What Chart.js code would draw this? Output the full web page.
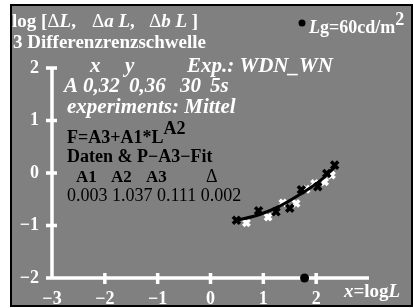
<!DOCTYPE html>
<html><head><meta charset="utf-8">
<script src="https://cdn.jsdelivr.net/npm/chart.js@4"></script>
<style>html,body{margin:0;padding:0;background:#fff}#wrap{width:414px;height:308px}</style>
</head><body><div id="wrap"><canvas id="c" width="414" height="308"></canvas></div>
<script>
const xTickValues = [-3, -2, -1, 0, 1, 2, 3];
const xTickLabels = ['−3', '−2', '−1', '0', '1', '2', ''];
const yTickValues = [-2, -1, 0, 1, 2];
const yTickLabels = ['−2', '−1', '0', '1', '2'];
const blackX = [0.49, 0.91, 1.24, 1.50, 1.72, 2.03, 2.20, 2.35];
const blackY = [-0.90, -0.72, -0.74, -0.67, -0.32, -0.26, -0.01, 0.15];
const whiteX = [0.68, 1.09, 1.37, 1.62, 1.81, 1.97, 2.16, 2.29];
const whiteY = [-0.95, -0.84, -0.57, -0.58, -0.31, -0.20, -0.17, -0.04];
const fitX = [0.47, 0.93, 1.31, 1.69, 2.06, 2.36];
const fitY = [-0.91, -0.79, -0.63, -0.41, -0.16, 0.12];
const lgX = [1.78];
const lgY = [-2];

const SERIF = "'Liberation Serif','Times New Roman',serif";
const pts = (xs, ys) => xs.map((v, i) => ({x: v, y: ys[i]}));

function rich(ctx, x, y, segs) {
  let cx = x;
  segs.forEach(s => {
    ctx.font = s.f;
    ctx.fillStyle = s.c || '#fff';
    ctx.fillText(s.t, cx, y + (s.dy || 0));
    cx += ctx.measureText(s.t).width;
  });
  return cx;
}

const framePlugin = {
  id: 'frame',
  beforeDraw(chart) {
    const ctx = chart.ctx;
    ctx.save();
    ctx.fillStyle = '#fff';
    ctx.fillRect(0, 0, 414, 308);
    ctx.fillStyle = '#808080';
    ctx.fillRect(11, 5, 401, 301);
    ctx.restore();
  },
  beforeDatasetsDraw(chart) {
    const {ctx, scales: {x, y}} = chart;
    ctx.save();
    ctx.strokeStyle = '#fff';
    ctx.lineWidth = 3.5;
    const x0 = x.getPixelForValue(-3), x1 = x.getPixelForValue(3);
    const y0 = y.getPixelForValue(-2), y1 = y.getPixelForValue(2);
    ctx.beginPath();
    ctx.moveTo(x0, y0); ctx.lineTo(x1, y0);
    ctx.moveTo(x0, y0); ctx.lineTo(x0, y1);
    xTickValues.forEach(v => {
      if (v === -3 || v === 3) return;
      const px = x.getPixelForValue(v);
      ctx.moveTo(px, y0 - 5); ctx.lineTo(px, y0 + 6);
    });
    yTickValues.forEach(v => {
      const py = y.getPixelForValue(v);
      ctx.moveTo(x0 - 6, py); ctx.lineTo(x0 + 5, py);
    });
    ctx.stroke();

    const B = 'bold 19px ' + SERIF, BI = 'italic bold 19px ' + SERIF, R = '19px ' + SERIF;
    ctx.textBaseline = 'alphabetic';
    rich(ctx, 12, 27, [{t: 'log [', f: B}, {t: 'Δ', f: R}, {t: 'L', f: BI}, {t: ',', f: B}]);
    rich(ctx, 92, 27, [{t: 'Δ', f: R}, {t: 'a', f: BI}, {t: ' ', f: B}, {t: 'L', f: BI}, {t: ',', f: B}]);
    rich(ctx, 149, 27, [{t: 'Δ', f: R}, {t: 'b', f: BI}, {t: ' ', f: B}, {t: 'L', f: BI}, {t: ' ]', f: B}]);
    rich(ctx, 13, 48, [{t: '3 Differenzrenzschwelle', f: B}]);
    // legend dot
    ctx.fillStyle = '#000';
    ctx.beginPath(); ctx.arc(302, 23, 3.5, 0, Math.PI * 2); ctx.fill();
    const LB = 'bold 18px ' + SERIF, LBI = 'italic bold 18px ' + SERIF;
    rich(ctx, 309, 33, [{t: 'L', f: LBI}, {t: 'g=60cd/m', f: LB}, {t: '2', f: 'bold 18px ' + SERIF, dy: -8}]);
    const IB = 'italic bold 21px ' + SERIF;
    rich(ctx, 90, 72, [{t: 'x', f: IB}]);
    rich(ctx, 125, 72, [{t: 'y', f: IB}]);
    rich(ctx, 187, 72, [{t: 'Exp.: WDN_WN', f: IB}]);
    rich(ctx, 64, 92, [{t: 'A', f: IB}]);
    rich(ctx, 83, 92, [{t: '0,32', f: IB}]);
    rich(ctx, 129, 92, [{t: '0,36', f: IB}]);
    rich(ctx, 180, 92, [{t: '30', f: IB}]);
    rich(ctx, 210, 92, [{t: '5s', f: IB}]);
    rich(ctx, 67, 113, [{t: 'experiments: Mittel', f: IB}]);
    const KB = 'bold 18px ' + SERIF, KR = '18px ' + SERIF, HB = 'bold 17px ' + SERIF;
    rich(ctx, 67, 143, [{t: 'F=A3+A1*L', f: KB, c: '#000'}, {t: 'A2', f: KB, c: '#000', dy: -9}]);
    rich(ctx, 67, 162, [{t: 'Daten & P−A3−Fit', f: KB, c: '#000'}]);
    rich(ctx, 76, 182, [{t: 'A1', f: HB, c: '#000'}]);
    rich(ctx, 111, 182, [{t: 'A2', f: HB, c: '#000'}]);
    rich(ctx, 146, 182, [{t: 'A3', f: HB, c: '#000'}]);
    rich(ctx, 206, 182, [{t: 'Δ', f: KR, c: '#000'}]);
    rich(ctx, 67, 201, [{t: '0.003 1.037 0.111 0.002', f: KR, c: '#000'}]);
    rich(ctx, 344, 297, [{t: 'x', f: BI}, {t: '=log', f: B}, {t: 'L', f: BI}]);
    ctx.restore();
  },
  afterDraw(chart) {
    const ctx = chart.ctx;
    ctx.save();
    ctx.strokeStyle = '#000';
    ctx.lineWidth = 2;
    ctx.strokeRect(11, 5, 401, 301);
    ctx.restore();
  }
};

new Chart(document.getElementById('c'), {
  type: 'scatter',
  data: {
    datasets: [
      {data: pts(fitX, fitY), showLine: true, borderColor: '#000', borderWidth: 3,
       pointRadius: 0, cubicInterpolationMode: 'monotone', fill: false},
      {data: pts(blackX, blackY), pointStyle: 'crossRot', pointRadius: 5,
       borderColor: '#000', borderWidth: 3.5, showLine: false},
      {data: pts(whiteX, whiteY), pointStyle: 'crossRot', pointRadius: 4.5,
       borderColor: '#fff', borderWidth: 3.5, showLine: false},
      {data: pts(lgX, lgY), pointStyle: 'circle', pointRadius: 4.5,
       backgroundColor: '#000', borderColor: '#000', borderWidth: 0, showLine: false}
    ]
  },
  options: {
    responsive: false,
    animation: false,
    events: [],
    clip: false,
    layout: {padding: {left: 0, right: 45, top: 68, bottom: 0}},
    plugins: {legend: {display: false}, tooltip: {enabled: false}, title: {display: false}},
    scales: {
      x: {
        type: 'linear', min: -3, max: 3,
        afterFit: s => { s.height = 30; },
        grid: {display: false, drawTicks: false},
        border: {display: false},
        afterBuildTicks: s => { s.ticks = xTickValues.map(v => ({value: v})); },
        ticks: {
          padding: 11, color: '#fff', font: {family: SERIF, size: 18, weight: 'bold'},
          maxRotation: 0, autoSkip: false,
          callback: v => xTickLabels[xTickValues.indexOf(v)]
        }
      },
      y: {
        type: 'linear', min: -2, max: 2,
        afterFit: s => { s.width = 52; },
        grid: {display: false, drawTicks: false},
        border: {display: false},
        afterBuildTicks: s => { s.ticks = yTickValues.map(v => ({value: v})); },
        ticks: {
          padding: 13, color: '#fff', font: {family: SERIF, size: 18, weight: 'bold'},
          autoSkip: false,
          callback: v => yTickLabels[yTickValues.indexOf(v)]
        }
      }
    }
  },
  plugins: [framePlugin]
});
</script>
</body></html>
